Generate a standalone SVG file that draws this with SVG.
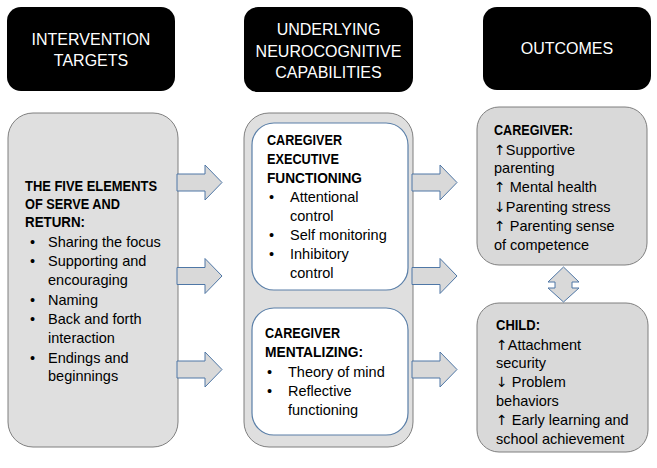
<svg xmlns="http://www.w3.org/2000/svg" width="657" height="468" viewBox="0 0 657 468">
<defs>
<style>
.hdr{fill:#000;stroke:none}
.ht{font-family:"Liberation Sans",Arial,sans-serif;font-size:16px;fill:#fff;text-anchor:middle}
.gbox{fill:#dfdfdf;stroke:#7f7f7f;stroke-width:1}
.obox{fill:#d9d9d9;stroke:#7f7f7f;stroke-width:1}
.wbox{fill:#fff;stroke:#5a7fa8;stroke-width:1.2}
.t{font-family:"Liberation Sans",Arial,sans-serif;font-size:14.5px;fill:#000}
.b{font-weight:bold}
.ar{font-family:"DejaVu Sans",sans-serif;font-size:14px}
.arr{fill:#d9d9d9;stroke:#4f77a6;stroke-width:1}
</style>
<path id="ar" d="M0,-8.5 H28 V-17.5 L45,0 L28,17.5 V8.5 H0 Z"/>
</defs>
<rect width="657" height="468" fill="#fff"/>

<g id="hdr-intervention">
<rect class="hdr" x="7" y="7" width="168" height="84" rx="14"/>
<text class="ht" x="91" y="45">INTERVENTION</text>
<text class="ht" x="91" y="66">TARGETS</text>
</g>
<g id="hdr-underlying">
<rect class="hdr" x="244" y="7" width="169" height="85" rx="14"/>
<text class="ht" x="328.5" y="35">UNDERLYING</text>
<text class="ht" x="328.5" y="57">NEUROCOGNITIVE</text>
<text class="ht" x="328.5" y="78">CAPABILITIES</text>
</g>
<g id="hdr-outcomes">
<rect class="hdr" x="483" y="7" width="168" height="83" rx="14"/>
<text class="ht" x="567" y="54">OUTCOMES</text>
</g>

<g id="five-elements">
<rect class="gbox" x="8" y="113" width="170" height="334" rx="25"/>
<text class="t b" x="25" y="191" textLength="132" lengthAdjust="spacingAndGlyphs">THE FIVE ELEMENTS</text>
<text class="t b" x="25" y="209" textLength="95" lengthAdjust="spacingAndGlyphs">OF SERVE AND</text>
<text class="t b" x="25" y="227" textLength="60" lengthAdjust="spacingAndGlyphs">RETURN:</text>
<text class="t" x="30" y="247">•</text><text class="t" x="48" y="247">Sharing the focus</text>
<text class="t" x="30" y="266">•</text><text class="t" x="48" y="266">Supporting and</text>
<text class="t" x="48" y="285">encouraging</text>
<text class="t" x="30" y="305">•</text><text class="t" x="48" y="305">Naming</text>
<text class="t" x="30" y="324">•</text><text class="t" x="48" y="324">Back and forth</text>
<text class="t" x="48" y="343">interaction</text>
<text class="t" x="30" y="363">•</text><text class="t" x="48" y="363">Endings and</text>
<text class="t" x="48" y="381">beginnings</text>
</g>

<g id="neurocognitive">
<rect class="gbox" x="244" y="113" width="169" height="334" rx="25"/>
<g id="executive-functioning">
<rect class="wbox" x="252" y="123" width="156" height="167" rx="22"/>
<text class="t b" x="267" y="145" textLength="75" lengthAdjust="spacingAndGlyphs">CAREGIVER</text>
<text class="t b" x="267" y="164" textLength="72" lengthAdjust="spacingAndGlyphs">EXECUTIVE</text>
<text class="t b" x="267" y="183" textLength="95" lengthAdjust="spacingAndGlyphs">FUNCTIONING</text>
<text class="t" x="269" y="202">•</text><text class="t" x="290" y="202">Attentional</text>
<text class="t" x="290" y="221">control</text>
<text class="t" x="269" y="240">•</text><text class="t" x="290" y="240">Self monitoring</text>
<text class="t" x="269" y="259">•</text><text class="t" x="290" y="259">Inhibitory</text>
<text class="t" x="290" y="278">control</text>
</g>
<g id="mentalizing">
<rect class="wbox" x="252" y="308" width="156" height="127" rx="22"/>
<text class="t b" x="265" y="338" textLength="75" lengthAdjust="spacingAndGlyphs">CAREGIVER</text>
<text class="t b" x="265" y="357" textLength="98" lengthAdjust="spacingAndGlyphs">MENTALIZING:</text>
<text class="t" x="267" y="377">•</text><text class="t" x="288" y="377">Theory of mind</text>
<text class="t" x="267" y="396">•</text><text class="t" x="288" y="396">Reflective</text>
<text class="t" x="288" y="415">functioning</text>
</g>
</g>

<g id="outcome-caregiver">
<rect class="obox" x="477" y="107" width="170" height="158" rx="22"/>
<text class="t b" x="494" y="135" textLength="79" lengthAdjust="spacingAndGlyphs">CAREGIVER:</text>
<text class="t" x="494" y="155"><tspan class="ar">↑</tspan>Supportive</text>
<text class="t" x="494" y="173">parenting</text>
<text class="t" x="494" y="192"><tspan class="ar">↑</tspan> Mental health</text>
<text class="t" x="494" y="212"><tspan class="ar">↓</tspan>Parenting stress</text>
<text class="t" x="494" y="231"><tspan class="ar">↑</tspan> Parenting sense</text>
<text class="t" x="494" y="250">of competence</text>
</g>

<g id="outcome-child">
<rect class="obox" x="477" y="303" width="171" height="149" rx="22"/>
<text class="t b" x="496" y="330" textLength="44" lengthAdjust="spacingAndGlyphs">CHILD:</text>
<text class="t" x="496" y="350"><tspan class="ar">↑</tspan>Attachment</text>
<text class="t" x="496" y="368">security</text>
<text class="t" x="496" y="387"><tspan class="ar">↓</tspan> Problem</text>
<text class="t" x="496" y="406">behaviors</text>
<text class="t" x="496" y="425"><tspan class="ar">↑</tspan> Early learning and</text>
<text class="t" x="496" y="444">school achievement</text>
</g>

<g id="connectors">
<use href="#ar" class="arr" x="177" y="182.5"/>
<use href="#ar" class="arr" x="177" y="276"/>
<use href="#ar" class="arr" x="177" y="369.5"/>
<use href="#ar" class="arr" x="412" y="182.5"/>
<use href="#ar" class="arr" x="412" y="276"/>
<use href="#ar" class="arr" x="412" y="369.5"/>
<path class="arr" d="M563.5,267 L579,282 H572 V288 H579 L563.5,302 L548,288 H555 V282 H548 Z"/>
</g>
</svg>
